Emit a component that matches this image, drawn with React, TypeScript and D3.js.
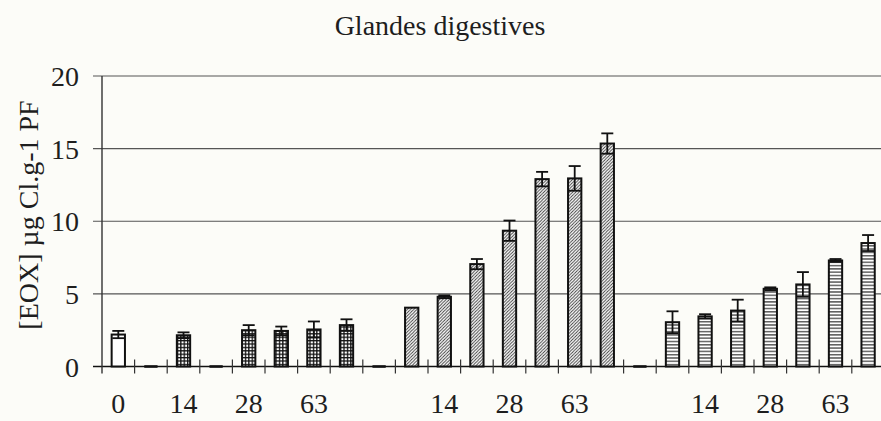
import React from "react";
import * as d3 from "d3";

const categories = [
  "0", "", "14", "", "28", "", "63", "", "",
  "", "14", "", "28", "", "63", "", "",
  "", "14", "", "28", "", "63", "",
];
const values = [2.2, 0, 2.15, 0, 2.5, 2.45, 2.55, 2.85, 0, 4.05, 4.8, 7.05, 9.35, 12.9, 12.95, 15.35, 0, 3.05, 3.45, 3.85, 5.35, 5.65, 7.3, 8.5];
const errors = [0.25, 0, 0.2, 0, 0.35, 0.3, 0.55, 0.4, 0, 0, 0.1, 0.35, 0.7, 0.5, 0.85, 0.7, 0, 0.75, 0.15, 0.75, 0.1, 0.85, 0.1, 0.55];
const fills = [
  "white", "grid", "grid", "grid", "grid", "grid", "grid", "grid", "grid",
  "diag", "diag", "diag", "diag", "diag", "diag", "diag", "diag",
  "horiz", "horiz", "horiz", "horiz", "horiz", "horiz", "horiz",
];
const yTicks = [0, 5, 10, 15, 20];
const title = "Glandes digestives";
const yLabel = "[EOX] µg Cl.g-1 PF";

const W = 881;
const H = 421;
const left = 102;
const bandW = 32.6;
const font = "'Liberation Serif', 'Times New Roman', serif";
const ink = "#1e1e1e";

export default function App() {
  const x = d3
    .scaleBand<number>()
    .domain(d3.range(categories.length))
    .range([left, left + bandW * categories.length])
    .paddingInner(0)
    .paddingOuter(0);
  const y = d3.scaleLinear().domain([0, 20]).range([366.5, 76]);
  const bw = 13.3;
  const capW = 12;
  const fillFor = (f: string) =>
    f === "white" ? "#ffffff" : `url(#pat-${f})`;

  return (
    <svg
      width={W}
      height={H}
      style={{ position: "absolute", left: 0, top: 0, background: "#fcfcf8" }}
    >
      <defs>
        <pattern id="pat-grid" patternUnits="userSpaceOnUse" width={3.4} height={3.4}>
          <rect width={3.4} height={3.4} fill="#ffffff" />
          <path d="M0,0.6H3.4M0.6,0V3.4" stroke="#111" strokeWidth={1.4} />
        </pattern>
        <pattern id="pat-diag" patternUnits="userSpaceOnUse" width={3.2} height={3.2}>
          <rect width={3.2} height={3.2} fill="#ffffff" />
          <path d="M-0.8,0.8L0.8,-0.8M0,3.2L3.2,0M2.4,4L4,2.4" stroke="#333" strokeWidth={0.9} />
        </pattern>
        <pattern id="pat-horiz" patternUnits="userSpaceOnUse" width={4} height={3.3}>
          <rect width={4} height={3.3} fill="#ffffff" />
          <path d="M0,1.6H4" stroke="#222" strokeWidth={1.1} />
        </pattern>
      </defs>

      {/* title */}
      <text x={440} y={35} textAnchor="middle" fontFamily={font} fontSize={28} fill={ink}>
        {title}
      </text>

      {/* y label */}
      <text
        transform={`translate(38,215) rotate(-90)`}
        textAnchor="middle"
        fontFamily={font}
        fontSize={28}
        fill={ink}
      >
        {yLabel}
      </text>

      {/* gridlines */}
      {yTicks.map((t) => (
        <line
          key={"g" + t}
          x1={93}
          x2={W}
          y1={y(t)}
          y2={y(t)}
          stroke={t === 0 ? "#111" : "#555"}
          strokeWidth={t === 0 ? 1.6 : 1.2}
        />
      ))}
      {/* y tick labels */}
      {yTicks.map((t) => (
        <text
          key={"yl" + t}
          x={79}
          y={y(t) + 10}
          textAnchor="end"
          fontFamily={font}
          fontSize={28}
          fill={ink}
        >
          {t}
        </text>
      ))}
      {/* y axis */}
      <line x1={left} x2={left} y1={y(20)} y2={y(0) + 7} stroke="#333" strokeWidth={1.4} />

      {/* x ticks */}
      {d3.range(1, categories.length + 1).map((i) => {
        const xx = (x(i - 1) as number) + bandW;
        return (
          <line key={"xt" + i} x1={xx} x2={xx} y1={y(0) - 7} y2={y(0) + 7} stroke="#333" strokeWidth={1.2} />
        );
      })}

      {/* bars */}
      {values.map((v, i) => {
        const cx = (x(i) as number) + bandW / 2;
        if (v === 0) {
          return (
            <line
              key={"b" + i}
              x1={cx - bw / 2}
              x2={cx + bw / 2}
              y1={y(0)}
              y2={y(0)}
              stroke="#111"
              strokeWidth={2.6}
            />
          );
        }
        return (
          <rect
            key={"b" + i}
            x={cx - bw / 2}
            y={y(v)}
            width={bw}
            height={y(0) - y(v)}
            fill={fillFor(fills[i])}
            stroke="#111"
            strokeWidth={2}
          />
        );
      })}

      {/* error bars */}
      {values.map((v, i) => {
        const e = errors[i];
        if (!e) return null;
        const cx = (x(i) as number) + bandW / 2;
        const y1 = y(v + e);
        const y2 = y(v - e);
        return (
          <g key={"e" + i} stroke="#111" strokeWidth={1.8}>
            <line x1={cx} x2={cx} y1={y1} y2={y2} />
            <line x1={cx - capW / 2} x2={cx + capW / 2} y1={y1} y2={y1} />
            <line x1={cx - capW / 2} x2={cx + capW / 2} y1={y2} y2={y2} />
          </g>
        );
      })}

      {/* x labels */}
      {categories.map((c, i) =>
        c ? (
          <text
            key={"xl" + i}
            x={(x(i) as number) + bandW / 2}
            y={413}
            textAnchor="middle"
            fontFamily={font}
            fontSize={28}
            fill={ink}
          >
            {c}
          </text>
        ) : null
      )}
    </svg>
  );
}
